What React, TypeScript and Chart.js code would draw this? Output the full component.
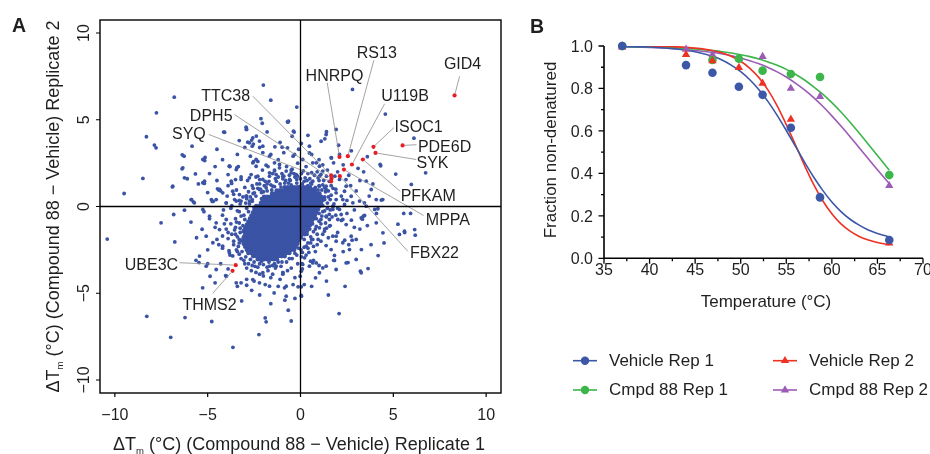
import React, { useEffect, useRef } from 'react';
import { Chart, registerables } from 'chart.js';

Chart.register(...registerables);

const FONT = '"Liberation Sans", Arial, Helvetica, sans-serif';
const INK = '#1f1f1f';

// ---------------- Panel A data ----------------
// isolated points (x = replicate 1, y = replicate 2)
const sparsePoints: [number, number][] = [
  [-2.0, 7.0], [-6.8, 6.3], [-1.6, 6.13], [-0.2, 5.73], [-7.76, 5.4], [-2.13, 5.06], [-2.06, 4.8], [-0.7, 4.88],
  [-0.34, 4.29], [-4.14, 4.29], [-8.3, 4.02], [-7.87, 3.54], [-7.78, 3.38], [-2.9, 4.44], [-2.38, 4.06], [-2.63, 3.83],
  [-2.54, 3.6], [-1.38, 3.44], [-0.7, 3.38], [-5.84, 3.48], [-6.27, 2.9], [-5.14, 2.83], [-8.49, 1.62], [-6.9, 1.13],
  [-9.5, 0.75], [-6.38, 2.17], [-5.18, 1.33], [-5.77, 0.27], [-5.72, 0.21], [-4.75, 0.29], [-3.71, 1.33],
  [-6.37, 2.98], [-5.16, 2.65], [-5.66, 1.88], [-5.26, 1.37], [-5.87, 0.4], [-4.8, 0.4], [-4.47, 1.02],
  [-3.83, 2.32], [-3.43, 2.23], [-3.9, 1.84], [-2.93, 4.57], [-2.84, 3.71], [-2.6, 3.48], [-2.03, 3.48], [-2.03, 3.1],
  [-0.99, 3.42], [-0.65, 4.92], [-0.45, 4.05], [0.04, 3.63], [-0.32, 3.0], [-2.53, 2.58], [-2.39, 2.32],
  [-1.85, 2.38], [-1.67, 1.94], [-1.4, 2.05], [-1.13, 2.42], [-0.95, 1.6],
  [-10.41, -1.88], [-8.28, -6.33], [-6.99, -7.54], [-6.22, -6.4], [-4.78, -6.63], [-3.64, -8.12], [-2.24, -7.38],
  [-1.9, -6.42], [-1.85, -6.65], [-3.17, -5.44], [-5.27, -4.69], [-4.87, -4.02], [-4.03, -3.98], [-5.63, -3.1],
  [-5.47, -3.23], [-6.77, -2.04], [-7.51, -0.94], [-6.83, -0.46], [-6.25, -0.21], [-5.3, -1.31],
  [-0.66, -5.98], [-0.84, -5.4], [0.05, -5.17], [-0.13, -4.63], [-1.42, -4.98], [-2.63, -4.83], [-2.9, -4.54],
  [-0.95, -3.82], [-0.86, -4.69], [-0.77, -5.17], [0.04, -3.73], [-0.02, -4.02], [0.04, -4.63], [0.04, -5.13],
  [2.08, -6.17], [3.64, -3.58], [3.23, -3.73], [2.56, -3.23], [1.79, -3.1], [4.18, -2.83], [6.15, -1.33],
  [6.18, -1.65], [5.61, -1.5], [5.25, -1.02], [4.5, -2.1], [3.28, -2.48], [4.0, -0.17], [4.09, -0.4], [5.93, -0.4],
  [5.56, -0.4], [3.33, -0.73], [2.74, -0.79], [2.38, -1.94], [2.78, -1.94], [4.44, -1.52], [5.33, -1.61],
  [5.6, -1.42], [3.27, -0.65], [3.45, -0.52], [4.08, -0.94], [4.17, -0.13], [2.46, -1.04], [2.73, -1.71], [3.0, -1.9],
  [1.74, -1.71], [1.92, -2.0], [1.83, -2.82], [1.83, -3.11], [1.2, -3.54], [1.02, -3.82], [0.81, -4.11],
  [0.54, -3.15], [0.66, -3.25], [0.12, -3.34], [0.22, -2.96], [0.31, -2.29], [0.66, -1.9], [1.38, -2.25],
  [1.65, -2.48], [1.02, -1.23], [1.29, -1.42], [1.56, -0.75], [2.01, -0.75], [2.19, -0.46], [1.74, 0.02],
  [2.1, -0.17], [2.37, 0.12],
  [2.8, 6.75], [4.57, 5.33], [6.11, 3.94], [6.74, 1.94], [5.13, 1.87], [5.97, 1.27], [4.32, 2.35], [4.35, 0.37],
  [3.6, 2.87], [3.44, 0.21], [2.74, 3.21], [1.4, 4.31], [1.31, 3.9], [4.29, 2.42], [2.05, 3.53], [1.65, 2.81],
  [1.78, 2.52], [1.11, 3.76], [0.48, 3.09], [0.66, 2.52], [1.02, 2.32], [3.54, 1.46], [3.81, 0.98], [4.43, 0.4],
  [4.08, 0.4], [2.46, 1.17], [2.73, 0.59], [3.18, 0.31], [2.1, 1.56], [2.37, 0.88], [1.92, 0.4], [1.02, 1.75],
  [1.38, 1.17], [0.85, 0.69], [3.9, 1.3], [2.6, 1.8], [3.0, 0.9], [3.2, 1.5],
  [-4.6, 2.3], [-4.2, 2.7], [-3.4, 3.0], [-2.2, 3.4], [-1.1, 3.7], [-0.1, 3.3], [-5.0, 0.8], [-4.9, -0.7],
  [-5.6, -1.8], [-5.0, -3.3], [-4.6, -4.4], [-3.4, -4.6], [-2.2, -5.1], [-1.6, -5.6], [-0.3, -5.3], [0.6, -4.6],
  [1.4, -4.3], [2.3, -2.6], [2.6, -2.2], [2.9, -1.2], [3.6, -1.1], [3.8, -2.2], [3.1, 2.2], [2.3, 2.4], [3.4, 2.0],
  [2.1, 3.0], [0.4, 4.1], [-1.8, 4.3], [-3.3, 3.8], [-4.5, 3.3], [2.9, -0.2], [3.7, 0.6], [-5.9, -0.9], [-6.1, 1.6],
  [-0.5, -6.6], [1.5, -5.1], [2.4, -4.6]
];

// medium-density points around the central cloud
const fringePoints: [number, number][] = [
  [-4.4, 0.95], [-4.3, 0.9], [-3.8, 2.3], [-3.35, 2.3], [-3.2, 1.7], [-2.85, 1.5], [-2.6, 1.2], [-2.4, 1.7],
  [-2.2, 1.3], [-2.05, 2.1], [-1.75, 2.3], [-1.4, 2.1], [-1.0, 1.9], [-0.75, 2.3], [-0.5, 2.1], [-0.3, 1.7],
  [-0.15, 2.5], [-1.8, 1.3], [-1.3, 1.45], [-0.85, 1.35], [-0.55, 1.5], [-1.55, 0.95], [-2.0, 0.85], [-2.55, 0.75],
  [-2.9, 0.6], [-3.3, 0.35], [-3.6, 0.7], [-4.0, 0.2], [-3.75, -0.1], [-3.3, -0.3], [-3.5, -0.7], [-4.2, -0.5],
  [-4.7, 0.3], [-5.2, -0.3], [-2.3, 2.6], [-2.7, 2.9], [-1.2, 2.7], [-0.9, 3.1], [-0.4, 2.9], [-3.0, 3.4],
  [-1.6, 3.0], [-4.9, 1.9], [-4.5, 1.5], [-5.5, 1.3], [-3.9, 1.2], [-3.5, 1.55], [-2.1, 0.45], [-2.6, 0.3],
  [-2.9, -0.1], [-3.05, -0.5], [-0.2, 1.35], [0.0, 1.6],
  [0.2, 1.45], [0.4, 1.9], [0.6, 1.3], [0.8, 1.1], [1.0, 1.5], [1.2, 1.25], [1.4, 1.75], [1.5, 0.9], [1.65, 1.2],
  [1.9, 1.0], [2.2, 0.6], [2.5, 0.35], [1.3, 0.55], [1.6, 0.4], [1.8, 0.15], [2.0, -0.1], [0.3, 2.3], [0.9, 2.0],
  [1.2, 2.4], [1.67, 2.8], [2.0, 2.0], [2.45, 1.55], [2.7, 1.2], [0.6, 3.0], [1.0, 2.7],
  [1.2, -0.3], [1.4, -0.6], [1.6, -0.2], [1.9, -0.5], [2.2, -0.8], [2.5, -0.4], [1.1, -1.0], [1.3, -1.3],
  [1.6, -1.1], [0.9, -1.6], [1.1, -2.0], [0.6, -1.9], [0.4, -2.4], [0.8, -2.6], [1.5, -1.8], [2.0, -1.5],
  [0.3, -2.8], [0.7, -3.1], [1.0, -3.4], [3.2, -1.3], [0.1, -3.6], [0.2, -4.5],
  [-3.3, -2.1], [-3.5, -1.6], [-3.4, -2.6], [-3.2, -3.0], [-3.0, -3.3], [-2.6, -3.4], [-2.2, -3.3], [-1.8, -3.5],
  [-1.4, -3.3], [-1.0, -3.2], [-0.6, -3.0], [-0.3, -2.7], [-0.1, -2.4], [-2.4, -3.8], [-2.0, -4.0], [-1.5, -3.9],
  [-1.1, -4.2], [-0.7, -3.7], [-0.3, -4.1], [-2.9, -4.2], [-3.8, -2.8], [-4.2, -2.4], [-4.5, -1.9], [-3.9, -1.5],
  [-4.1, -1.0], [-4.6, -1.2], [-5.0, -2.5], [-4.3, -3.3], [-3.9, -3.6], [-1.9, -4.5], [-1.2, -4.6], [-0.4, -4.5],
  [-2.5, -4.3]
];

// further medium-density points read around the cloud
const extraPoints: [number, number][] = [
  [-4.09, 4.28], [-2.92, 4.44], [-2.57, 3.96], [-2.75, 3.67], [-2.21, 3.77], [-0.68, 4.86], [-0.38, 4.34],
  [-2.39, 2.71], [-2.57, 2.52], [-1.67, 2.9], [-1.4, 2.52], [-1.13, 2.23], [-0.77, 2.04], [-0.5, 1.94],
  [-0.23, 1.84], [-3.83, 2.32], [-3.46, 2.13], [-3.73, 1.46], [-3.2, 1.56], [-2.75, 1.65], [-2.66, 1.84],
  [-2.3, 1.75], [-2.03, 1.56], [-1.67, 1.75], [-1.31, 1.84], [-0.95, 1.75], [-0.59, 1.56], [-4.36, 0.98],
  [-4.19, 0.79], [-3.65, 0.88], [-3.29, 0.69], [-2.93, 0.6], [-2.48, 0.79], [-2.21, 0.98], [-1.85, 1.08],
  [-1.49, 1.17], [-4.54, 0.4], [-4.0, 0.21], [-3.46, 0.31], [-3.2, 0.31], [-2.75, 0.31], [-5.26, 2.71],
  [-5.17, 1.46], [-6.34, 2.23], [-6.25, 1.65], [-6.88, 1.17], [-5.89, 0.4], [-5.26, -0.17], [-4.9, -0.56],
  [-4.54, -0.94], [-4.36, -1.33], [-4.0, -0.75], [-5.08, -1.71], [-4.72, -2.09], [-4.19, -2.29], [-3.83, -2.67],
  [-5.44, -2.86], [-5.08, -3.44], [-4.54, -3.63], [-4.0, -4.02], [-3.46, -4.4], [-3.2, -4.4], [-2.57, -4.21],
  [-2.03, -3.82], [-1.67, -3.44], [-1.31, -3.44], [-0.95, -3.82], [-0.77, -4.59], [-1.67, -4.59], [-2.21, -4.4],
  [0.85, -3.25], [0.48, -3.44], [1.38, -3.44], [1.92, -3.63], [2.46, -3.25], [3.27, -3.82], [3.0, -3.05],
  [2.64, -2.48], [2.28, -2.09], [1.92, -1.71], [1.56, -1.13], [1.38, -0.56], [1.74, -0.17], [2.28, -0.75],
  [3.38, -0.56], [3.54, 0.02], [2.82, 0.21], [2.28, 0.4], [1.92, 0.79], [1.38, 0.98], [1.02, 1.17], [0.66, 1.46],
  [1.38, 4.15], [1.92, 4.44], [0.48, 3.48], [0.85, 2.52], [1.2, 2.04], [0.12, 2.71]
];

// halo of fairly dense points just outside the solid core
const haloPoints: [number, number][] = [
  [-1.9, 1.45], [-1.6, 1.25], [-1.35, 1.6], [-1.05, 1.12], [-0.9, 1.75], [-0.65, 1.35], [-0.35, 1.9], [-0.05, 1.15],
  [0.25, 1.65], [0.55, 1.35], [0.75, 1.8], [1.0, 1.2], [1.25, 1.5], [-0.45, 2.15], [-1.5, 1.9], [0.15, 2.05],
  [0.95, 1.65], [1.15, 0.95], [-2.2, 1.55], [-0.15, 1.75],
  [-2.55, 1.05], [-2.8, 0.85], [-3.1, 0.55], [-3.25, 0.15], [-3.4, -0.25], [-2.35, 1.3], [-3.0, 1.1], [-3.55, 0.4],
  [-2.7, 0.55], [-2.95, 0.2], [-3.2, -0.55], [-3.7, 0.05], [-3.95, 0.6], [-4.15, -0.2], [-3.45, 0.95], [-2.15, 1.0],
  [-3.3, -0.95], [-3.55, -1.35], [-3.4, -1.75], [-3.6, -2.2], [-3.45, -2.5], [-3.75, -1.0], [-3.9, -1.85],
  [-3.85, -2.55], [-4.0, -1.3], [-3.3, -2.75], [-4.2, -1.7], [-3.65, -2.85], [-4.4, -2.2], [-3.25, -1.25],
  [-3.05, -3.1], [-2.8, -3.3], [-2.45, -3.45], [-2.0, -3.35], [-1.75, -3.7], [-1.35, -3.55], [-1.05, -3.45],
  [-0.75, -3.2], [-0.45, -3.0], [-0.2, -2.8], [-2.65, -3.7], [-2.2, -3.9], [-1.6, -4.1], [-0.95, -3.9],
  [-0.5, -3.55], [-0.15, -3.3], [-1.2, -3.2], [-2.9, -3.55],
  [0.4, -2.1], [0.55, -1.75], [0.7, -1.45], [0.85, -1.15], [1.0, -0.85], [1.15, -0.55], [1.3, -0.25], [1.45, 0.2],
  [1.5, 0.55], [1.55, -0.45], [1.35, -0.95], [1.2, -1.6], [0.95, -1.9], [0.7, -2.3], [0.2, -2.35], [0.1, -2.65],
  [1.7, -0.6], [1.75, 0.0], [1.65, 0.65], [0.45, -2.65], [0.9, -2.2], [1.4, -1.25],
  [1.3, 1.1], [1.55, 1.45], [1.75, 1.05], [0.6, 1.95], [1.1, 1.85], [1.45, 2.1], [1.85, 1.75], [0.35, 1.5]
];

// dense points that just border the solid core
const nearCorePoints: [number, number][] = [
  [-1.4, 1.15], [-1.1, 1.3], [-0.8, 1.5], [-0.5, 1.25], [-0.2, 1.55], [0.1, 1.3], [0.4, 1.2], [0.7, 1.0],
  [0.95, 0.95], [-1.2, 1.7], [-0.6, 1.8], [0.05, 1.9], [0.5, 1.6], [-1.8, 0.9], [-2.1, 0.8], [-2.4, 0.6],
  [-2.6, 0.4], [-2.3, 1.05], [-1.95, 1.2], [-2.75, 0.15], [-2.5, -0.05], [-2.9, 0.45], [-1.7, 1.45],
  [-2.8, -0.3], [-3.0, -0.75], [-3.1, -1.1], [-3.25, -1.5], [-3.3, -1.9], [-3.35, -2.3], [-3.15, -2.6],
  [-3.5, -1.2], [-3.45, -0.9], [-3.6, -2.0], [-3.7, -1.6], [-2.95, -2.9], [-2.7, -3.05], [-2.5, -3.2],
  [-2.1, -3.15], [-1.7, -3.2], [-1.25, -3.05], [-0.9, -2.85], [-0.6, -2.6], [-0.45, -2.4], [-0.2, -2.1],
  [-1.5, -3.4], [-2.3, -3.5], [0.2, -1.9], [0.35, -1.6], [0.5, -1.3], [0.65, -1.0], [0.85, -0.7], [1.0, -0.4],
  [1.2, 0.05], [1.3, 0.4], [1.35, 0.85], [1.1, -0.75], [0.8, -1.3], [0.55, -2.1], [1.45, -0.1],
  [0.05, -2.9], [0.08, -3.3], [0.03, -2.5]
];

// solid central cloud, row by row: [y, x values]
const coreRows: [number, number[]][] = [
  [1.10, [-0.85, -0.68, -0.51, -0.34, -0.17, 0, 0.17, 0.34, 0.51]],
  [0.92, [-1.28, -1.11, -0.94, -0.77, -0.6, -0.43, -0.26, -0.09, 0.09, 0.26, 0.43, 0.6, 0.77]],
  [0.74, [-1.53, -1.36, -1.19, -1.02, -0.85, -0.68, -0.51, -0.34, -0.17, 0, 0.17, 0.34, 0.51, 0.68, 0.85, 1.02]],
  [0.56, [-1.96, -1.79, -1.62, -1.45, -1.28, -1.11, -0.94, -0.77, -0.6, -0.43, -0.26, -0.09, 0.09, 0.26, 0.43, 0.6, 0.77, 0.94, 1.11]],
  [0.38, [-2.04, -1.87, -1.7, -1.53, -1.36, -1.19, -1.02, -0.85, -0.68, -0.51, -0.34, -0.17, 0, 0.17, 0.34, 0.51, 0.68, 0.85, 1.02, 1.19]],
  [0.20, [-2.13, -1.96, -1.79, -1.62, -1.45, -1.28, -1.11, -0.94, -0.77, -0.6, -0.43, -0.26, -0.09, 0.09, 0.26, 0.43, 0.6, 0.77, 0.94, 1.11]],
  [0.02, [-2.38, -2.21, -2.04, -1.87, -1.7, -1.53, -1.36, -1.19, -1.02, -0.85, -0.68, -0.51, -0.34, -0.17, 0, 0.17, 0.34, 0.51, 0.68, 0.85, 1.02]],
  [-0.16, [-2.47, -2.3, -2.13, -1.96, -1.79, -1.62, -1.45, -1.28, -1.11, -0.94, -0.77, -0.6, -0.43, -0.26, -0.09, 0.09, 0.26, 0.43, 0.6, 0.77, 0.94]],
  [-0.34, [-2.55, -2.38, -2.21, -2.04, -1.87, -1.7, -1.53, -1.36, -1.19, -1.02, -0.85, -0.68, -0.51, -0.34, -0.17, 0, 0.17, 0.34, 0.51, 0.68, 0.85]],
  [-0.52, [-2.64, -2.47, -2.3, -2.13, -1.96, -1.79, -1.62, -1.45, -1.28, -1.11, -0.94, -0.77, -0.6, -0.43, -0.26, -0.09, 0.09, 0.26, 0.43, 0.6, 0.77]],
  [-0.70, [-2.72, -2.55, -2.38, -2.21, -2.04, -1.87, -1.7, -1.53, -1.36, -1.19, -1.02, -0.85, -0.68, -0.51, -0.34, -0.17, 0, 0.17, 0.34, 0.51, 0.68]],
  [-0.88, [-2.81, -2.64, -2.47, -2.3, -2.13, -1.96, -1.79, -1.62, -1.45, -1.28, -1.11, -0.94, -0.77, -0.6, -0.43, -0.26, -0.09, 0.09, 0.26, 0.43, 0.6]],
  [-1.06, [-2.89, -2.72, -2.55, -2.38, -2.21, -2.04, -1.87, -1.7, -1.53, -1.36, -1.19, -1.02, -0.85, -0.68, -0.51, -0.34, -0.17, 0, 0.17, 0.34, 0.51]],
  [-1.24, [-2.98, -2.81, -2.64, -2.47, -2.3, -2.13, -1.96, -1.79, -1.62, -1.45, -1.28, -1.11, -0.94, -0.77, -0.6, -0.43, -0.26, -0.09, 0.09, 0.26, 0.43]],
  [-1.42, [-3.06, -2.89, -2.72, -2.55, -2.38, -2.21, -2.04, -1.87, -1.7, -1.53, -1.36, -1.19, -1.02, -0.85, -0.68, -0.51, -0.34, -0.17, 0, 0.17, 0.34]],
  [-1.60, [-2.98, -2.81, -2.64, -2.47, -2.3, -2.13, -1.96, -1.79, -1.62, -1.45, -1.28, -1.11, -0.94, -0.77, -0.6, -0.43, -0.26, -0.09, 0.09, 0.22]],
  [-1.78, [-3.06, -2.89, -2.72, -2.55, -2.38, -2.21, -2.04, -1.87, -1.7, -1.53, -1.36, -1.19, -1.02, -0.85, -0.68, -0.51, -0.34, -0.17, 0.02]],
  [-1.96, [-3.15, -2.98, -2.81, -2.64, -2.47, -2.3, -2.13, -1.96, -1.79, -1.62, -1.45, -1.28, -1.11, -0.94, -0.77, -0.6, -0.43, -0.26, -0.09]],
  [-2.14, [-3.06, -2.89, -2.72, -2.55, -2.38, -2.21, -2.04, -1.87, -1.7, -1.53, -1.36, -1.19, -1.02, -0.85, -0.68, -0.51, -0.34, -0.17]],
  [-2.32, [-2.98, -2.81, -2.64, -2.47, -2.3, -2.13, -1.96, -1.79, -1.62, -1.45, -1.28, -1.11, -0.94, -0.77, -0.6, -0.43, -0.26]],
  [-2.50, [-2.89, -2.72, -2.55, -2.38, -2.21, -2.04, -1.87, -1.7, -1.53, -1.36, -1.19, -1.02, -0.85, -0.68, -0.51, -0.34]],
  [-2.68, [-2.81, -2.64, -2.47, -2.3, -2.13, -1.96, -1.79, -1.62, -1.45, -1.28, -1.11, -0.94, -0.77, -0.6]],
  [-2.86, [-2.55, -2.38, -2.21, -2.04, -1.87, -1.7, -1.53, -1.36, -1.19, -1.02, -0.85]],
  [-3.04, [-2.3, -2.13, -1.96, -1.79, -1.62, -1.45, -1.28]]
];

// highlighted proteins
const hitNames = ['GID4', 'RS13', 'HNRPQ', 'U119B', 'ISOC1', 'PDE6D', 'SYK', 'PFKAM', 'MPPA', 'FBX22', 'TTC38', 'DPH5', 'SYQ', 'UBE3C', 'THMS2'];
const hitX = [8.3, 2.55, 2.1, 2.77, 3.93, 5.5, 4.04, 3.36, 2.34, 2.12, 1.65, 1.67, 1.65, -3.49, -3.66];
const hitY = [6.4, 2.9, 2.86, 2.42, 3.44, 3.52, 3.09, 2.71, 2.13, 1.75, 1.79, 1.61, 1.44, -3.38, -3.71];
// annotation placement (data units): label centre and leader-line start
const labelX = [8.73, 4.11, 1.83, 5.63, 6.36, 7.76, 7.11, 6.88, 7.94, 7.22, -4.03, -4.81, -6.01, -8.03, -4.9];
const labelY = [8.23, 8.89, 7.56, 6.4, 4.61, 3.46, 2.57, 0.67, -0.73, -2.65, 6.43, 5.23, 4.22, -3.31, -5.62];
const leaderX = [8.57, 3.95, 1.44, 4.53, 5.03, 6.25, 6.23, 5.37, 6.63, 5.78, -2.57, -3.56, -4.94, -6.52, -4.73];
const leaderY = [7.51, 8.43, 7.13, 5.92, 4.55, 3.56, 2.71, 0.88, -0.52, -2.58, 6.36, 5.3, 4.15, -3.24, -5.01];

const ticksA = [-10, -5, 0, 5, 10];

// ---------------- Panel B data ----------------
const temps = [37, 44, 46.9, 49.8, 52.4, 55.5, 58.7, 66.3];
const vehicleRep1 = [1.0, 0.91, 0.874, 0.808, 0.77, 0.615, 0.287, 0.086];
const vehicleRep2 = [0.995, 0.96, 0.93, 0.898, 0.824, 0.655, 0.29, 0.072];
const cmpd88Rep1 = [1.0, null, 0.934, 0.94, 0.884, 0.868, 0.854, 0.392];
const cmpd88Rep2 = [1.0, 0.984, 0.958, null, 0.95, 0.8, 0.762, 0.342];

const curveTemps = [37, 40, 43, 45, 47, 48, 49, 50, 51, 52, 53, 54, 55, 56, 57, 58, 59, 60, 61, 62, 63, 64, 65, 66.3];
const vehicleRep1Fit = [0.998, 0.995, 0.986, 0.973, 0.95, 0.933, 0.909, 0.879, 0.841, 0.794, 0.738, 0.673, 0.602, 0.528, 0.453, 0.383, 0.32, 0.265, 0.22, 0.184, 0.156, 0.133, 0.117, 0.101];
const vehicleRep2Fit = [1.0, 0.999, 0.996, 0.99, 0.978, 0.967, 0.951, 0.928, 0.895, 0.851, 0.792, 0.718, 0.63, 0.535, 0.438, 0.348, 0.271, 0.21, 0.162, 0.128, 0.103, 0.086, 0.074, 0.064];
const cmpd88Rep1Fit = [0.997, 0.995, 0.991, 0.986, 0.978, 0.973, 0.967, 0.959, 0.95, 0.939, 0.925, 0.909, 0.89, 0.867, 0.84, 0.808, 0.773, 0.733, 0.689, 0.641, 0.59, 0.537, 0.484, 0.415];
const cmpd88Rep2Fit = [0.996, 0.993, 0.986, 0.979, 0.969, 0.962, 0.954, 0.943, 0.931, 0.916, 0.899, 0.878, 0.854, 0.825, 0.793, 0.757, 0.716, 0.671, 0.623, 0.573, 0.521, 0.469, 0.417, 0.352];

const seriesNames = ['Vehicle Rep 1', 'Vehicle Rep 2', 'Cmpd 88 Rep 1', 'Cmpd 88 Rep 2'];
const xTicksB = [35, 40, 45, 50, 55, 60, 65, 70];
const yTicksB = [0, 0.2, 0.4, 0.6, 0.8, 1.0];

// ---------------- styles ----------------
const BLUE_A = '#3a53a4';
const RED_A = '#e41f26';
const C_BLUE = '#3d57a7';
const C_RED = '#ee3224';
const C_GREEN = '#3cb54a';
const C_PURPLE = '#9b5bb6';

const fmt = (v: number) => (v < 0 ? '\u2212' + Math.abs(v) : String(v));

type Part = { t: string; size: number; dy: number };
function drawRich(ctx: CanvasRenderingContext2D, parts: Part[], cx: number, baseY: number) {
  let w = 0;
  for (const p of parts) {
    ctx.font = `${p.size}px ${FONT}`;
    w += ctx.measureText(p.t).width;
  }
  let xx = cx - w / 2;
  ctx.textAlign = 'left';
  ctx.textBaseline = 'alphabetic';
  for (const p of parts) {
    ctx.font = `${p.size}px ${FONT}`;
    ctx.fillText(p.t, xx, baseY + p.dy);
    xx += ctx.measureText(p.t).width;
  }
}
const titleParts = (rep: string): Part[] => [
  { t: '\u0394T', size: 18, dy: 0 },
  { t: 'm', size: 9.5, dy: 4 },
  { t: ' (\u00b0C) (Compound 88 \u2212 Vehicle) Replicate ' + rep, size: 18, dy: 0 }
];

const panelAPlugin = {
  id: 'panelADecor',
  afterDatasetsDraw(chart: any) {
    const { ctx, chartArea: ca, scales } = chart;
    const sx = scales.x;
    const sy = scales.y;
    ctx.save();
    // leader lines
    ctx.strokeStyle = '#8c8c8c';
    ctx.lineWidth = 0.8;
    for (let i = 0; i < hitNames.length; i++) {
      const x1 = sx.getPixelForValue(leaderX[i]);
      const y1 = sy.getPixelForValue(leaderY[i]);
      const x2 = sx.getPixelForValue(hitX[i]);
      const y2 = sy.getPixelForValue(hitY[i]);
      const d = Math.hypot(x2 - x1, y2 - y1);
      const k = (d - 2.2) / d;
      ctx.beginPath();
      ctx.moveTo(x1, y1);
      ctx.lineTo(x1 + (x2 - x1) * k, y1 + (y2 - y1) * k);
      ctx.stroke();
    }
    // crosshair and frame
    ctx.strokeStyle = '#000';
    ctx.lineWidth = 1.3;
    const x0 = sx.getPixelForValue(0);
    const y0 = sy.getPixelForValue(0);
    ctx.beginPath();
    ctx.moveTo(ca.left, y0);
    ctx.lineTo(ca.right, y0);
    ctx.moveTo(x0, ca.top);
    ctx.lineTo(x0, ca.bottom);
    ctx.stroke();
    ctx.lineWidth = 1.4;
    ctx.strokeRect(ca.left, ca.top, ca.right - ca.left, ca.bottom - ca.top);
    // ticks
    ctx.lineWidth = 1.2;
    ctx.beginPath();
    for (const v of ticksA) {
      const px = sx.getPixelForValue(v);
      ctx.moveTo(px, ca.bottom);
      ctx.lineTo(px, ca.bottom + 4);
      const py = sy.getPixelForValue(v);
      ctx.moveTo(ca.left, py);
      ctx.lineTo(ca.left - 4, py);
    }
    ctx.stroke();
    // tick labels
    ctx.fillStyle = INK;
    ctx.font = `16px ${FONT}`;
    ctx.textAlign = 'center';
    ctx.textBaseline = 'alphabetic';
    for (const v of ticksA) {
      ctx.fillText(fmt(v), sx.getPixelForValue(v), 420);
    }
    for (const v of ticksA) {
      ctx.save();
      ctx.translate(89, sy.getPixelForValue(v));
      ctx.rotate(-Math.PI / 2);
      ctx.fillText(fmt(v), 0, 0);
      ctx.restore();
    }
    // axis titles
    drawRich(ctx, titleParts('1'), 299, 450);
    ctx.save();
    ctx.translate(58.5, 206.5);
    ctx.rotate(-Math.PI / 2);
    drawRich(ctx, titleParts('2'), 0, 0);
    ctx.restore();
    // hit labels
    ctx.font = `16px ${FONT}`;
    ctx.textAlign = 'center';
    ctx.textBaseline = 'alphabetic';
    for (let i = 0; i < hitNames.length; i++) {
      ctx.fillText(hitNames[i], sx.getPixelForValue(labelX[i]), sy.getPixelForValue(labelY[i]) + 5.7);
    }
    // panel letter
    ctx.font = `bold 19.5px ${FONT}`;
    ctx.textAlign = 'left';
    ctx.fillText('A', 12, 32.3);
    ctx.restore();
  }
};

const legendStyles = [
  { color: C_BLUE, shape: 'circle', col: 0, row: 0 },
  { color: C_RED, shape: 'triangle', col: 1, row: 0 },
  { color: C_GREEN, shape: 'circle', col: 0, row: 1 },
  { color: C_PURPLE, shape: 'triangle', col: 1, row: 1 }
];

function drawMarker(ctx: CanvasRenderingContext2D, shape: string, x: number, y: number, r: number) {
  ctx.beginPath();
  if (shape === 'circle') {
    ctx.arc(x, y, r, 0, Math.PI * 2);
  } else {
    for (let k = 0; k < 3; k++) {
      const a = (k * 2 * Math.PI) / 3;
      const px = x + Math.sin(a) * r;
      const py = y - Math.cos(a) * r;
      if (k === 0) ctx.moveTo(px, py);
      else ctx.lineTo(px, py);
    }
    ctx.closePath();
  }
  ctx.fill();
}

const panelBPlugin = {
  id: 'panelBDecor',
  beforeDatasetsDraw(chart: any) {
    const { ctx, chartArea: ca, scales } = chart;
    const sx = scales.x;
    const sy = scales.y;
    ctx.save();
    ctx.strokeStyle = '#000';
    ctx.lineWidth = 1.6;
    ctx.beginPath();
    ctx.moveTo(ca.left, ca.top);
    ctx.lineTo(ca.left, ca.bottom);
    ctx.lineTo(sx.getPixelForValue(70), ca.bottom);
    ctx.stroke();
    ctx.lineWidth = 1.3;
    ctx.beginPath();
    for (let i = 0; i < xTicksB.length; i++) {
      const px = sx.getPixelForValue(xTicksB[i]);
      ctx.moveTo(px, ca.bottom);
      ctx.lineTo(px, ca.bottom + 5.5);
      if (i < xTicksB.length - 1) {
        const pm = sx.getPixelForValue((xTicksB[i] + xTicksB[i + 1]) / 2);
        ctx.moveTo(pm, ca.bottom);
        ctx.lineTo(pm, ca.bottom + 3);
      }
    }
    for (let i = 0; i < yTicksB.length; i++) {
      const py = sy.getPixelForValue(yTicksB[i]);
      ctx.moveTo(ca.left, py);
      ctx.lineTo(ca.left - 5.5, py);
      if (i < yTicksB.length - 1) {
        const pm = sy.getPixelForValue((yTicksB[i] + yTicksB[i + 1]) / 2);
        ctx.moveTo(ca.left, pm);
        ctx.lineTo(ca.left - 3, pm);
      }
    }
    ctx.stroke();
    ctx.fillStyle = INK;
    ctx.font = `16px ${FONT}`;
    ctx.textBaseline = 'alphabetic';
    ctx.textAlign = 'center';
    for (const v of xTicksB) ctx.fillText(String(v), sx.getPixelForValue(v), 275);
    ctx.textAlign = 'right';
    for (const v of yTicksB) ctx.fillText(v.toFixed(1), 73, sy.getPixelForValue(v) + 5.7);
    // titles
    ctx.font = `17px ${FONT}`;
    ctx.textAlign = 'center';
    ctx.fillText('Temperature (\u00b0C)', 246, 307);
    ctx.save();
    ctx.translate(36, 150);
    ctx.rotate(-Math.PI / 2);
    ctx.fillText('Fraction non-denatured', 0, 0);
    ctx.restore();
    // legend
    for (let i = 0; i < legendStyles.length; i++) {
      const s = legendStyles[i];
      const lx = s.col === 0 ? 53 : 253;
      const ly = s.row === 0 ? 360.7 : 390;
      ctx.strokeStyle = s.color;
      ctx.fillStyle = s.color;
      ctx.lineWidth = 1.6;
      ctx.beginPath();
      ctx.moveTo(lx, ly);
      ctx.lineTo(lx + 24, ly);
      ctx.stroke();
      drawMarker(ctx, s.shape, lx + 12, ly, s.shape === 'circle' ? 4.2 : 4.8);
      ctx.fillStyle = INK;
      ctx.textAlign = 'left';
      ctx.font = `17px ${FONT}`;
      ctx.fillText(seriesNames[i], lx + 36, ly + 4.8);
    }
    ctx.font = `bold 19.5px ${FONT}`;
    ctx.fillText('B', 10, 33.3);
    ctx.restore();
  }
};

function pts(xs: number[], ys: (number | null)[]) {
  const out: { x: number; y: number }[] = [];
  xs.forEach((x, i) => {
    const y = ys[i];
    if (y !== null && y !== undefined) out.push({ x, y });
  });
  return out;
}

export default function App() {
  const refA = useRef<HTMLCanvasElement>(null);
  const refB = useRef<HTMLCanvasElement>(null);

  useEffect(() => {
    const background: { x: number; y: number }[] = [];
    for (const [x, y] of sparsePoints) background.push({ x, y });
    for (const [x, y] of fringePoints) background.push({ x, y });
    for (const [x, y] of extraPoints) background.push({ x, y });
    for (const [x, y] of haloPoints) background.push({ x, y });
    for (const [x, y] of nearCorePoints) background.push({ x, y });
    const core: { x: number; y: number }[] = [];
    for (const [y, xs] of coreRows) for (const x of xs) core.push({ x, y });
    const hits = pts(hitX, hitY);

    const chartA = new Chart(refA.current as HTMLCanvasElement, {
      type: 'scatter',
      data: {
        datasets: [
          { data: hits, backgroundColor: RED_A, borderWidth: 0, pointRadius: 2.1, order: 0 },
          { data: background, backgroundColor: BLUE_A, borderWidth: 0, pointRadius: 1.9, order: 1 },
          { data: core, backgroundColor: BLUE_A, borderWidth: 0, pointRadius: 2.3, order: 2 }
        ]
      },
      options: {
        responsive: false,
        animation: false,
        devicePixelRatio: 1,
        events: [],
        layout: { padding: { left: 100, right: 19, top: 20, bottom: 61 } },
        scales: {
          x: { type: 'linear', min: -10.8, max: 10.8, display: false },
          y: { type: 'linear', min: -10.75, max: 10.75, display: false }
        },
        plugins: { legend: { display: false }, tooltip: { enabled: false } }
      },
      plugins: [panelAPlugin]
    } as any);

    const curve = (ys: number[], color: string, order: number) => ({
      data: pts(curveTemps, ys),
      showLine: true,
      borderColor: color,
      borderWidth: 1.6,
      pointRadius: 0,
      cubicInterpolationMode: 'monotone',
      order
    });
    const marks = (ys: (number | null)[], color: string, style: string, r: number, order: number) => ({
      data: pts(temps, ys),
      showLine: false,
      backgroundColor: color,
      borderWidth: 0,
      pointStyle: style,
      pointRadius: r,
      clip: false,
      order
    });

    const chartB = new Chart(refB.current as HTMLCanvasElement, {
      type: 'scatter',
      data: {
        datasets: [
          marks(vehicleRep1, C_BLUE, 'circle', 4.3, 0),
          marks(vehicleRep2, C_RED, 'triangle', 4.8, 1),
          marks(cmpd88Rep1, C_GREEN, 'circle', 4.3, 2),
          marks(cmpd88Rep2, C_PURPLE, 'triangle', 4.8, 3),
          curve(vehicleRep1Fit, C_BLUE, 4),
          curve(vehicleRep2Fit, C_RED, 5),
          curve(cmpd88Rep1Fit, C_GREEN, 6),
          curve(cmpd88Rep2Fit, C_PURPLE, 7)
        ]
      },
      options: {
        responsive: false,
        animation: false,
        devicePixelRatio: 1,
        events: [],
        layout: { padding: { left: 84, right: 7, top: 46, bottom: 195.7 } },
        scales: {
          x: { type: 'linear', min: 35, max: 70, display: false },
          y: { type: 'linear', min: 0, max: 1, display: false }
        },
        plugins: { legend: { display: false }, tooltip: { enabled: false } }
      },
      plugins: [panelBPlugin]
    } as any);

    return () => {
      chartA.destroy();
      chartB.destroy();
    };
  }, []);

  return (
    <div style={{ position: 'absolute', left: 0, top: 0, width: 930, height: 454, overflow: 'hidden', background: '#fff' }}>
      <canvas ref={refA} width={520} height={454} style={{ position: 'absolute', left: 0, top: 0 }} />
      <canvas ref={refB} width={410} height={454} style={{ position: 'absolute', left: 520, top: 0 }} />
    </div>
  );
}
